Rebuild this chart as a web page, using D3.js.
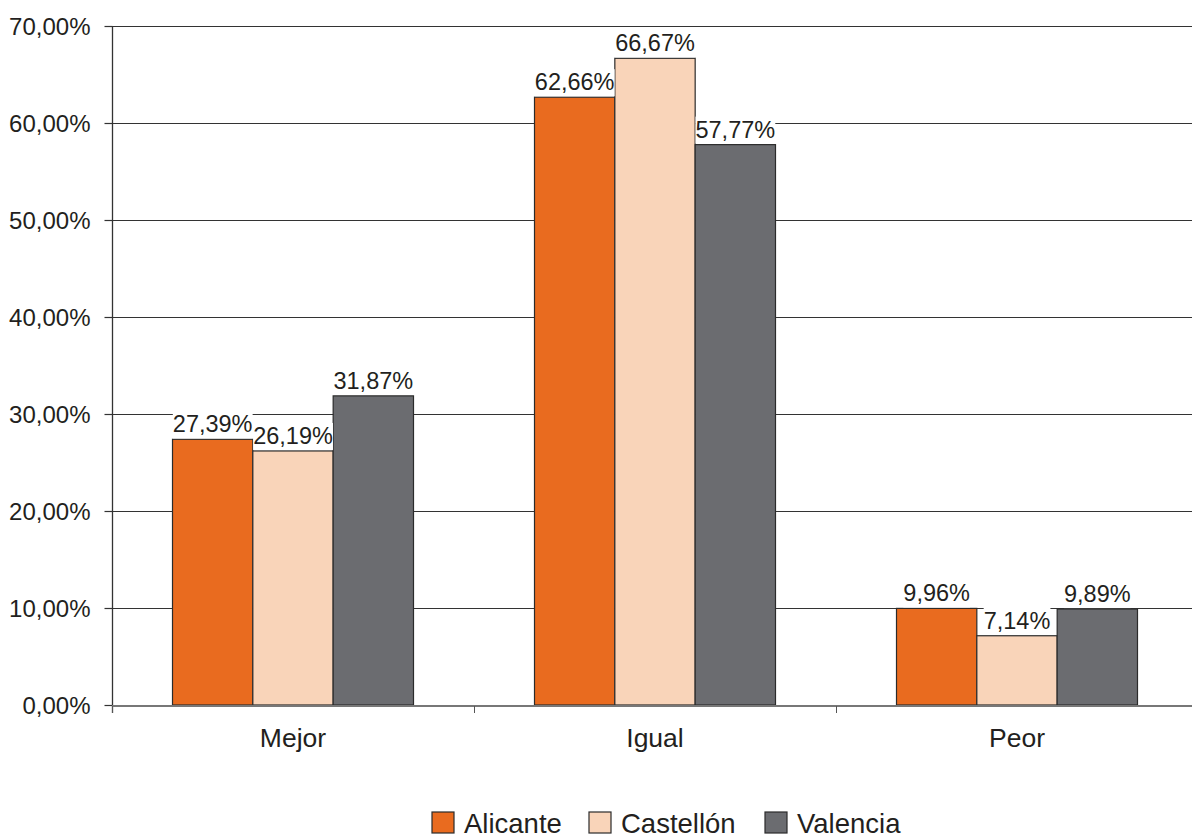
<!DOCTYPE html>
<html><head><meta charset="utf-8">
<script src="https://cdn.jsdelivr.net/npm/d3@7"></script>
<style>body{margin:0;background:#fff}svg{display:block}text{font-family:"Liberation Sans",Arial,sans-serif;fill:#231f20}</style>
</head><body><svg id="c" width="1192" height="836"></svg>
<script>
const categories = ["Mejor", "Igual", "Peor"];
const seriesNames = ["Alicante", "Castellón", "Valencia"];
const alicante = [27.39, 62.66, 9.96];
const castellon = [26.19, 66.67, 7.14];
const valencia = [31.87, 57.77, 9.89];
const yTicks = [0, 10, 20, 30, 40, 50, 60, 70];
const colors = ["#e96b1f", "#f9d4b9", "#6b6c70"];

const values = [alicante, castellon, valencia];
const svg = d3.select("#c");
const fmt = v => v.toFixed(2).replace(".", ",") + "%";
const y = d3.scaleLinear().domain([0, 70]).range([705, 26]);
const x = d3.scaleBand().domain(categories).range([112, 1198]).padding(0);
const xs = d3.scaleBand().domain(seriesNames).range([60.5, x.bandwidth() - 60.5]).padding(0);

// gridlines
svg.append("g").selectAll("line").data(yTicks.slice(1)).join("line")
  .attr("x1", 112).attr("x2", 1192).attr("y1", d => y(d) + 0.5).attr("y2", d => y(d) + 0.5)
  .attr("stroke", "#333").attr("stroke-width", 1.2);

// bars
const g = svg.append("g");
categories.forEach((c, i) => {
  seriesNames.forEach((s, j) => {
    const v = values[j][i];
    g.append("rect").attr("x", x(c) + xs(s)).attr("y", y(v))
      .attr("width", xs.bandwidth()).attr("height", y(0) - y(v))
      .attr("fill", colors[j]).attr("stroke", "#2b2b2b").attr("stroke-width", 1.2);
  });
});

// labels
categories.forEach((c, i) => {
  seriesNames.forEach((s, j) => {
    const v = values[j][i];
    const cx = x(c) + xs(s) + xs.bandwidth() / 2;
    const t = svg.append("text").attr("x", cx).attr("y", y(v) - 7)
      .attr("text-anchor", "middle").attr("font-size", 23.5).text(fmt(v));
    const bb = t.node().getBBox();
    svg.insert("rect", () => t.node()).attr("x", bb.x).attr("y", y(v) - 28)
      .attr("width", bb.width).attr("height", 27).attr("fill", "#fff");
  });
});

// y axis
const ya = svg.append("g").attr("transform", "translate(112.5,0)")
  .call(d3.axisLeft(y).tickValues(yTicks).tickSize(8).tickPadding(14).tickFormat(fmt));
ya.select(".domain").attr("stroke", "#333").attr("stroke-width", 1.3).attr("d", "M0,26V713");
ya.selectAll(".tick line").attr("stroke", "#333").attr("stroke-width", 1.2);
ya.selectAll(".tick text").attr("font-size", 24).attr("fill", "#231f20").attr("font-family", "Liberation Sans, Arial, sans-serif").attr("dy", "0.36em");

// x axis
svg.append("line").attr("x1", 112).attr("x2", 1192).attr("y1", 706).attr("y2", 706)
  .attr("stroke", "#777").attr("stroke-width", 2.2);
svg.append("g").selectAll("line").data(categories).join("line")
  .attr("x1", d => x(d) + 0.5).attr("x2", d => x(d) + 0.5).attr("y1", 706).attr("y2", 713)
  .attr("stroke", "#555").attr("stroke-width", 1);
svg.append("g").selectAll("text").data(categories).join("text")
  .attr("x", d => x(d) + x.bandwidth() / 2).attr("y", 747)
  .attr("text-anchor", "middle").attr("font-size", 26.5).text(d => d);

// legend
const legX = [432, 589, 765];
const lg = svg.append("g");
seriesNames.forEach((s, j) => {
  lg.append("rect").attr("x", legX[j]).attr("y", 812).attr("width", 22).attr("height", 21)
    .attr("fill", colors[j]).attr("stroke", "#2b2b2b").attr("stroke-width", 1.2);
  lg.append("text").attr("x", legX[j] + 32).attr("y", 833).attr("font-size", 27.5).text(s);
});
</script></body></html>
